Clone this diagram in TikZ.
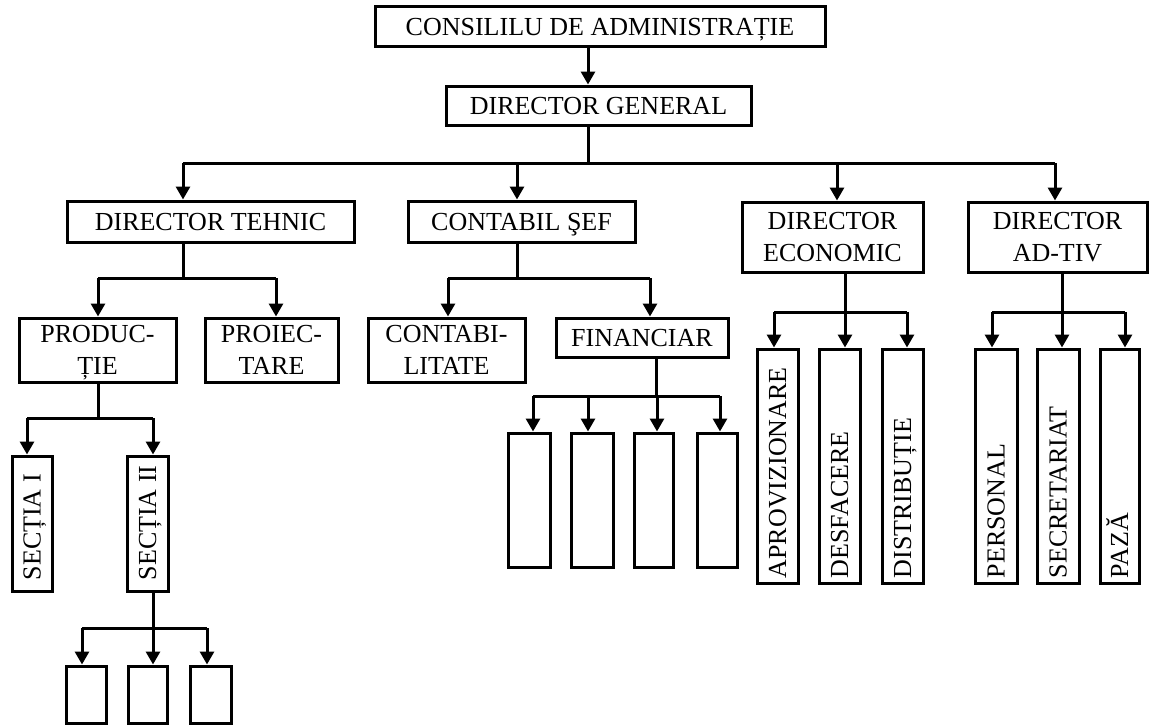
\documentclass[tikz,border=0pt]{standalone}
\usepackage{fontspec}
\setmainfont{Liberation Serif}
\usetikzlibrary{arrows.meta}

\begin{document}
\begin{tikzpicture}[x=1pt,y=-1pt,
  box/.style={draw,line width=3pt,inner sep=0pt,align=center,
    text depth=0pt,font=\fontsize{26}{32}\selectfont},
  oneline/.style={text height=17.2pt},
  vtext/.style={rotate=90,anchor=base west,inner sep=0pt,
    font=\fontsize{26}{32}\selectfont},
  link/.style={line width=3pt},
  arr/.style={line width=3pt,-{Triangle[width=14pt,length=13pt]}}]
\useasboundingbox (0,0) rectangle (1150,725);

% box given by left, top, right, bottom
\newcommand\orgbox[6][]{%
  \node[box,#1,minimum width=#5-#3,minimum height=#6-#4] (#2)
    at ({(#3+#5)/2},{(#4+#6)/2}) }

% vertical label, read from bottom to top
\newcommand\vlabel[3]{%
  \node[vtext] (#1-t) at ([xshift=8.5pt,yshift=#2]#1.south) {#3};}

% top levels
\orgbox[oneline]{cons}{375}{7}{825}{47}{CONSILILU DE ADMINISTRAȚIE};
\orgbox[oneline]{dg}{446}{86}{751}{125}{DIRECTOR GENERAL};

% directors
\orgbox[oneline]{dt}{67}{201}{354}{242}{DIRECTOR TEHNIC};
\orgbox[oneline]{cs}{408}{201}{635}{242}{CONTABIL ŞEF};
\orgbox{de}{742}{202}{923}{272}{DIRECTOR\\ECONOMIC};
\orgbox{da}{968}{202}{1147}{272}{DIRECTOR\\AD-TIV};

% technical branch
\orgbox{prod}{19}{318}{176}{382}{PRODUC-\\ȚIE};
\orgbox{proi}{205}{318}{338}{382}{PROIEC-\\TARE};
\orgbox{s1}{12}{456}{52}{591}{};
\orgbox{s2}{127}{456}{168}{591}{};
\vlabel{s1}{12pt}{SECȚIA I}
\vlabel{s2}{12pt}{SECȚIA II}
\orgbox{b1}{66}{666}{106}{723}{};
\orgbox{b2}{128}{666}{167}{723}{};
\orgbox{b3}{190}{666}{231}{723}{};

% accounting branch
\orgbox{contab}{368}{318}{525}{382}{CONTABI-\\LITATE};
\orgbox[oneline]{fin}{556}{318}{728}{357}{FINANCIAR};
\orgbox{f1}{508}{433}{550}{567}{};
\orgbox{f2}{571}{433}{613}{567}{};
\orgbox{f3}{634}{433}{673}{567}{};
\orgbox{f4}{697}{433}{737}{567}{};

% economic branch
\orgbox{apro}{757}{349}{798}{583}{};
\orgbox{desf}{819}{349}{860}{583}{};
\orgbox{distr}{882}{349}{923}{583}{};
\vlabel{apro}{6pt}{APROVIZIONARE}
\vlabel{desf}{6pt}{DESFACERE}
\vlabel{distr}{6pt}{DISTRIBUȚIE}

% administrative branch
\orgbox{pers}{975}{349}{1017}{583}{};
\orgbox{secr}{1037}{349}{1079}{583}{};
\orgbox{paza}{1100}{349}{1139}{583}{};
\vlabel{pers}{6pt}{PERSONAL}
\vlabel{secr}{6pt}{SECRETARIAT}
\vlabel{paza}{6pt}{PAZĂ}

% junction points of the connectors
\coordinate (jdg) at (588,163);
\coordinate (jdt) at (183,278);
\coordinate (jprod) at (98,418);
\coordinate (js2) at (153,628);
\coordinate (jcs) at (517,278);
\coordinate (jfin) at (656,396);
\coordinate (jde) at (845,312);
\coordinate (jda) at (1062,312);

% council -> general director -> directors
\draw[arr] (cons.south -| jdg) -- (dg.north -| jdg);
\draw[link] (dg.south -| jdg) -- (jdg);
\draw[link] (183,163) -- (1055,163);
\draw[arr] (183,163) -- (dt.north -| 183,0);
\draw[arr] (517,163) -- (cs.north -| 517,0);
\draw[arr] (837,163) -- (de.north -| 837,0);
\draw[arr] (1055,163) -- (da.north -| 1055,0);

% technical director
\draw[link] (dt.south -| jdt) -- (jdt);
\draw[link] (98,278) -- (276,278);
\draw[arr] (98,278) -- (prod.north -| 98,0);
\draw[arr] (276,278) -- (proi.north -| 276,0);

\draw[link] (prod.south -| jprod) -- (jprod);
\draw[link] (27,418) -- (153,418);
\draw[arr] (27,418) -- (s1.north -| 27,0);
\draw[arr] (153,418) -- (s2.north -| 153,0);

\draw[link] (s2.south -| js2) -- (js2);
\draw[link] (82,628) -- (207,628);
\draw[arr] (82,628) -- (b1.north -| 82,0);
\draw[arr] (153,628) -- (b2.north -| 153,0);
\draw[arr] (207,628) -- (b3.north -| 207,0);

% chief accountant
\draw[link] (cs.south -| jcs) -- (jcs);
\draw[link] (448,278) -- (650,278);
\draw[arr] (448,278) -- (contab.north -| 448,0);
\draw[arr] (650,278) -- (fin.north -| 650,0);

\draw[link] (fin.south -| jfin) -- (jfin);
\draw[link] (533,396) -- (720,396);
\draw[arr] (533,396) -- (f1.north -| 533,0);
\draw[arr] (588,396) -- (f2.north -| 588,0);
\draw[arr] (657,396) -- (f3.north -| 657,0);
\draw[arr] (720,396) -- (f4.north -| 720,0);

% economic director
\draw[link] (de.south -| jde) -- (jde);
\draw[link] (774,312) -- (907,312);
\draw[arr] (774,312) -- (apro.north -| 774,0);
\draw[arr] (845,312) -- (desf.north -| 845,0);
\draw[arr] (907,312) -- (distr.north -| 907,0);

% administrative director
\draw[link] (da.south -| jda) -- (jda);
\draw[link] (992,312) -- (1125,312);
\draw[arr] (992,312) -- (pers.north -| 992,0);
\draw[arr] (1062,312) -- (secr.north -| 1062,0);
\draw[arr] (1125,312) -- (paza.north -| 1125,0);
\end{tikzpicture}
\end{document}
